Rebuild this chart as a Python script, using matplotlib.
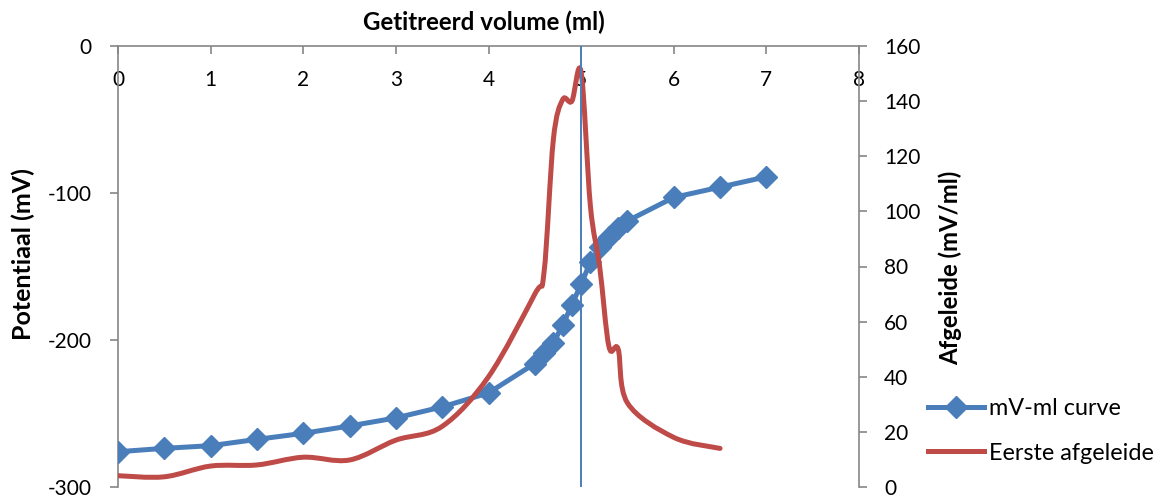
import numpy as np
import matplotlib.pyplot as plt
from matplotlib.path import Path
from matplotlib.patches import PathPatch

plt.rcParams['font.family'] = ['Lato', 'DejaVu Sans']
plt.rcParams['axes.unicode_minus'] = False

# mV-ml curve (left axis)
volume = [0, 0.5, 1, 1.5, 2, 2.5, 3, 3.5, 4, 4.5, 4.6, 4.7, 4.8, 4.9, 5.0,
          5.1, 5.2, 5.3, 5.4, 5.5, 6, 6.5, 7]
potential = [-276, -273.7, -271.9, -267.6, -263.5, -258.5, -253, -245.5, -236,
             -216, -209, -202, -190, -176, -162, -147, -137, -130, -124, -119,
             -103, -96, -89]

# first derivative (right axis)
deriv_volume = [0, 0.5, 1, 1.5, 2, 2.5, 3, 3.5, 4, 4.5, 4.6, 4.7, 4.8, 4.9,
                5.0, 5.1, 5.2, 5.3, 5.4, 5.5, 6, 6.5]
derivative = [4.1, 3.7, 7.6, 8, 10.8, 9.8, 17, 22, 40, 70, 78, 126, 140.5, 140,
              150.5, 102, 80, 51, 50, 30.5, 18, 14]

equivalence_volume = 5.0

blue = '#4A7EBB'
red = '#BE4B48'
grey = '#868686'


def smooth_path(xs, ys):
    # Excel-like smoothed line: Catmull-Rom segments as cubic Beziers
    n = len(xs)
    verts = [(xs[0], ys[0])]
    codes = [Path.MOVETO]
    for i in range(n - 1):
        a = max(i - 1, 0)
        b = min(i + 2, n - 1)
        c1 = (xs[i] + (xs[i + 1] - xs[a]) / 6, ys[i] + (ys[i + 1] - ys[a]) / 6)
        c2 = (xs[i + 1] - (xs[b] - xs[i]) / 6, ys[i + 1] - (ys[b] - ys[i]) / 6)
        verts += [c1, c2, (xs[i + 1], ys[i + 1])]
        codes += [Path.CURVE4] * 3
    return Path(verts, codes)


fig = plt.figure(figsize=(11.75, 4.95), dpi=100)
ax = fig.add_axes([118 / 1175, 1 - 487 / 495, (859 - 118) / 1175, 441 / 495])
ax2 = ax.twinx()

ax.plot(volume, potential, color=blue, lw=3.6, marker='D', ms=11,
        label='mV-ml curve', zorder=3)
ax.set_xlim(0, 8)
ax.set_ylim(-300, 0)
ax.set_xticks(range(0, 9))
ax.set_yticks([0, -100, -200, -300])

# x axis sits at y = 0, which is the top of the plot
ax.spines['bottom'].set_position(('data', 0))
ax.spines['top'].set_visible(False)
ax.spines['right'].set_visible(False)
for s in ['bottom', 'left']:
    ax.spines[s].set_color(grey)
    ax.spines[s].set_linewidth(1.2)
ax.tick_params(axis='x', direction='out', length=6, width=1.2, color=grey,
               pad=11, labelsize=15)
ax.tick_params(axis='y', direction='out', length=6, width=1.2, color=grey,
               pad=13, labelsize=15)

red_line = PathPatch(smooth_path(deriv_volume, derivative), facecolor='none',
                     edgecolor=red, lw=3.6, capstyle='round', zorder=3)
ax2.add_patch(red_line)
ax2.axvline(equivalence_volume, color=blue, lw=1.4, zorder=5)
ax2.set_ylim(0, 160)
ax2.set_yticks(range(0, 161, 20))
for s in ['top', 'bottom', 'left']:
    ax2.spines[s].set_visible(False)
ax2.spines['right'].set_color(grey)
ax2.spines['right'].set_linewidth(1.2)
ax2.tick_params(axis='y', direction='out', length=6, width=1.2, color=grey,
                pad=12, labelsize=15)

fig.text(484 / 1175, 1 - 22 / 495, 'Getitreerd volume (ml)', ha='center',
         va='center', fontsize=17.4, fontweight='bold')
fig.text(23 / 1175, 1 - 254 / 495, 'Potentiaal (mV)', ha='center', va='center',
         rotation=90, fontsize=18, fontweight='bold')
fig.text(950 / 1175, 1 - 268 / 495, 'Afgeleide (mV/ml)', ha='center',
         va='center', rotation=90, fontsize=17.2, fontweight='bold')

handles = [ax.get_lines()[0], plt.Line2D([], [], color=red, lw=3.6)]
fig.legend(handles, ['mV-ml curve', 'Eerste afgeleide'], loc='center left',
           bbox_to_anchor=(907 / 1175, 1 - 431 / 495), frameon=False,
           fontsize=16.8, handlelength=2.4, handletextpad=0.2,
           labelspacing=1.0)

fig.savefig('out.png', dpi=100)
